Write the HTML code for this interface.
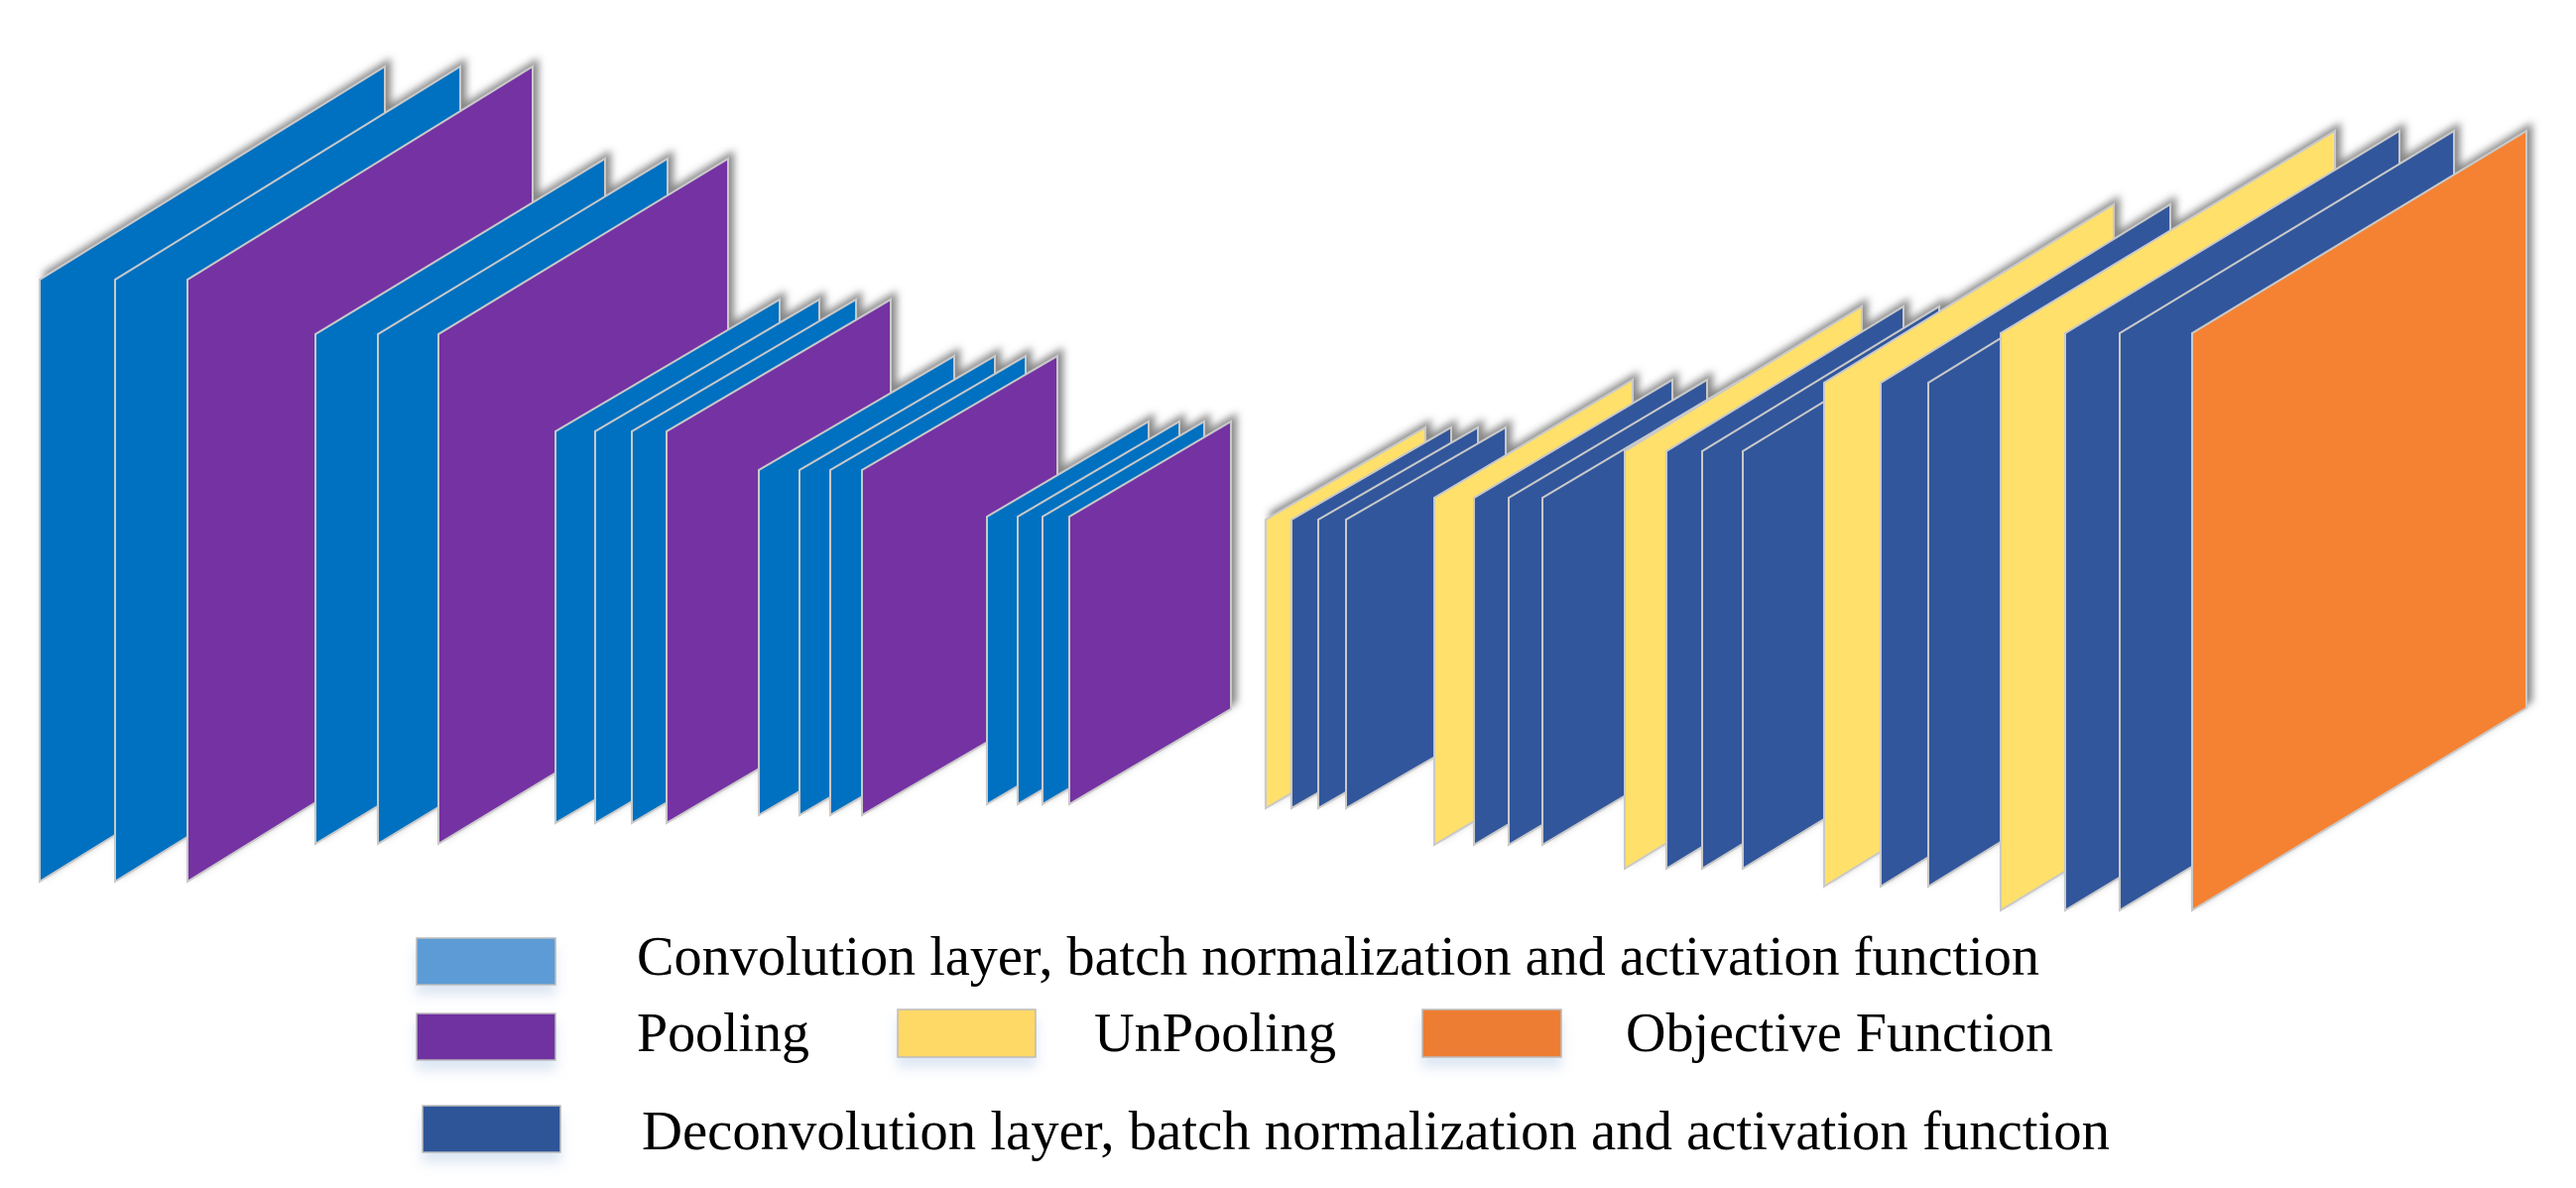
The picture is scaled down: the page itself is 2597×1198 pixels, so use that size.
<!DOCTYPE html>
<html><head><meta charset="utf-8"><style>
html,body{margin:0;padding:0;background:#fff;}
svg{display:block;}
text{font-family:"Liberation Serif",serif;fill:#000;}
</style></head><body>
<svg width="2597" height="1198" viewBox="0 0 2597 1198" xmlns="http://www.w3.org/2000/svg">
<defs>
<filter id="sh" x="-20%" y="-20%" width="140%" height="140%">
<feDropShadow dx="5" dy="-7" stdDeviation="4" flood-color="#555" flood-opacity="0.7"/>
</filter>
<filter id="lg" x="-20%" y="-20%" width="140%" height="200%">
<feDropShadow dx="0" dy="10" stdDeviation="6" flood-color="#9db8dc" flood-opacity="0.35"/>
</filter>
</defs>
<g id="panels" stroke="#c9c9c9" stroke-width="2" filter="url(#sh)"></g>
<g filter="url(#lg)">
<rect x="420" y="946" width="140" height="47" fill="#5B9BD5" stroke="#bbb" stroke-width="1.5"/>
<rect x="420" y="1022" width="140" height="47" fill="#7030A0" stroke="#bbb" stroke-width="1.5"/>
<rect x="905" y="1018" width="139" height="48" fill="#FFD966" stroke="#bbb" stroke-width="1.5"/>
<rect x="1434" y="1018" width="140" height="48" fill="#ED7D31" stroke="#bbb" stroke-width="1.5"/>
<rect x="426" y="1115" width="139" height="47" fill="#2F5597" stroke="#bbb" stroke-width="1.5"/>
</g>
<text x="642" y="983" font-size="56" textLength="1414" lengthAdjust="spacingAndGlyphs">Convolution layer, batch normalization and activation function</text>
<text x="642" y="1060" font-size="56" textLength="174" lengthAdjust="spacingAndGlyphs">Pooling</text>
<text x="1103" y="1060" font-size="56" textLength="244" lengthAdjust="spacingAndGlyphs">UnPooling</text>
<text x="1639" y="1060" font-size="56" textLength="431" lengthAdjust="spacingAndGlyphs">Objective Function</text>
<text x="647" y="1159" font-size="56" textLength="1480" lengthAdjust="spacingAndGlyphs">Deconvolution layer, batch normalization and activation function</text>
</svg>
<script>
var B="#0070C0",P="#7530A3",D="#30569B",Y="#FFE06B",O="#F58233";
var groups=[
 {w:348,dy:215,tl:282,h:607,p:[[40,B],[116,B],[189,P]]},
 {w:292,dy:177,tl:337,h:514,p:[[318,B],[381,B],[442,P]]},
 {w:226,dy:133,tl:435,h:395,p:[[560,B],[600,B],[637,B],[672,P]]},
 {w:197,dy:115,tl:474,h:348,p:[[765,B],[806,B],[837,B],[869,P]]},
 {w:163,dy:96,tl:521,h:290,p:[[995,B],[1026,B],[1051,B],[1078,P]]},
 {w:161,dy:93,tl:524,h:291,p:[[1276,Y],[1302,D],[1329,D],[1357,D]]},
 {w:200,dy:119,tl:502,h:350,p:[[1446,Y],[1486,D],[1521,D],[1555,D]]},
 {w:239,dy:146,tl:455,h:421,p:[[1638,Y],[1680,D],[1716,D],[1757,D]]},
 {w:292,dy:180,tl:386,h:508,p:[[1839,Y],[1896,D],[1944,D]]},
 {w:337,dy:204,tl:336,h:582,p:[[2017,Y],[2082,D],[2137,D],[2210,O]]}
];
var g=document.getElementById("panels"),s="";
groups.forEach(function(G){G.p.forEach(function(q){var L=q[0];
s+='<polygon fill="'+q[1]+'" points="'+L+','+G.tl+' '+(L+G.w)+','+(G.tl-G.dy)+' '+(L+G.w)+','+(G.tl-G.dy+G.h)+' '+L+','+(G.tl+G.h)+'"/>';});});
g.innerHTML=s;
</script>
</body></html>
